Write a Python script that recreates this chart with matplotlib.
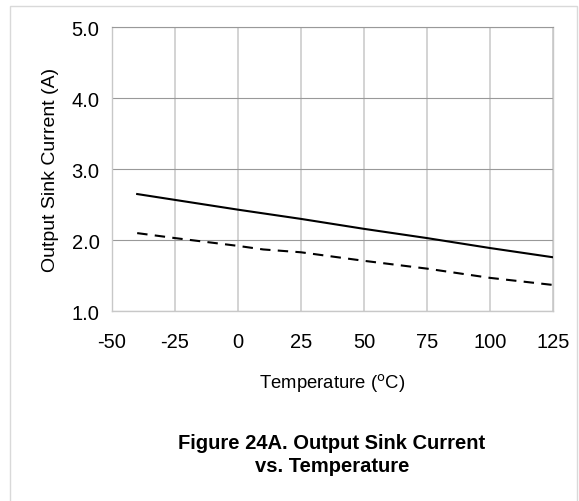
import numpy as np
import matplotlib.pyplot as plt
from matplotlib.patches import Rectangle

plt.rcParams['font.family'] = ['Liberation Sans', 'DejaVu Sans']

# data
temp_solid = [-40, 0, 25, 50, 75, 100, 125]
sink_solid = [2.65, 2.43, 2.30, 2.16, 2.03, 1.89, 1.76]

temp_dash = [-40, -25, 0, 10, 25, 50, 75, 100, 125]
sink_dash = [2.10, 2.03, 1.92, 1.87, 1.83, 1.71, 1.60, 1.47, 1.37]

xticks = [-50, -25, 0, 25, 50, 75, 100, 125]
yticks = [1.0, 2.0, 3.0, 4.0, 5.0]

fig = plt.figure(figsize=(5.79, 5.02), dpi=100)
ax = fig.add_axes([0.1934, 0.378, 0.7616, 0.566])

# light frame around whole figure
fig.patches.append(Rectangle((10 / 579, -0.05), 567 / 579, 1.05 - 7 / 502,
                             transform=fig.transFigure, fill=False,
                             edgecolor='#d9d9d9', lw=1.0))

ax.plot(temp_solid, sink_solid, color='black', lw=1.5, zorder=3)
ax.plot(temp_dash, sink_dash, color='black', lw=1.5, dashes=(5, 3.5), zorder=3)

ax.set_xlim(-50, 125)
ax.set_ylim(1.0, 5.0)
ax.set_xticks(xticks)
ax.set_xticklabels([str(t) for t in xticks])
ax.set_yticks(yticks)
ax.set_yticklabels(['%.1f' % v for v in yticks])

ax.xaxis.grid(True, color='#cccccc', lw=1.2)
ax.yaxis.grid(True, color='#999999', lw=0.8)
ax.set_axisbelow(True)
for s in ax.spines.values():
    s.set_color('#c8c8c8')
    s.set_linewidth(1.0)
ax.spines['top'].set_color('#999999')
ax.spines['top'].set_linewidth(0.8)

ax.tick_params(length=0, labelsize=14.5)
ax.tick_params(axis='x', pad=15)
ax.tick_params(axis='y', pad=9)

ax.set_xlabel('Temperature ($^{\\mathrm{o}}$C)', fontsize=13.3, labelpad=14)
ax.set_ylabel('Output Sink Current (A)', fontsize=14, labelpad=9)

fig.text(332 / 579, 1 - 455 / 502, 'Figure 24A. Output Sink Current\nvs. Temperature',
         ha='center', va='center', fontsize=14.5, fontweight='bold', linespacing=1.3)

fig.savefig('out.png', dpi=100)
